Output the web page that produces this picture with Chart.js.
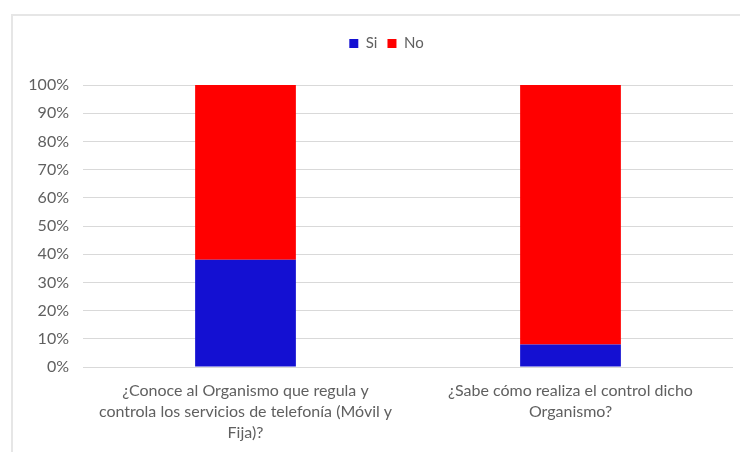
<!DOCTYPE html>
<html>
<head>
<meta charset="utf-8">
<script src="https://cdn.jsdelivr.net/npm/chart.js@4.4.1/dist/chart.umd.min.js"></script>
<style>
    html, body { margin: 0; padding: 0; background: #fff; overflow: hidden; }
    #marco { position: absolute; left: 11px; top: 14px; width: 800px; height: 500px; border: 2px solid #e6e6e6; box-sizing: border-box; }
    #caja { position: absolute; left: 0; top: 0; width: 740px; height: 452px; }
</style>
</head>
<body>
<div id="marco"></div>
<div id="caja"><canvas id="myChart" width="740" height="452"></canvas></div>
<script>
const preguntas = [
    ["¿Conoce al Organismo que regula y", "controla los servicios de telefonía (Móvil y", "Fija)?"],
    ["¿Sabe cómo realiza el control dicho", "Organismo?"]
]
const valoresSi = [38, 8]
const valoresNo = [62, 92]

// deja aire bajo la leyenda y la corre un poco a la derecha
const ajusteLeyenda = {
    id: 'ajusteLeyenda',
    beforeInit(chart) {
        const fit = chart.legend.fit
        chart.legend.fit = function () {
            fit.bind(chart.legend)()
            this.height += 24
        }
    },
    afterLayout(chart) {
        chart.legend.left += 20
        chart.legend.right += 20
    }
}

function iniciar_grafico() {
    Chart.defaults.font.family = "Lato, 'Open Sans', sans-serif"
    Chart.defaults.color = '#606060'

    new Chart("myChart", {
        type: "bar",
        data: {
            labels: preguntas,
            datasets: [{
                label: 'Si',
                backgroundColor: '#1410d2',
                data: valoresSi
            }, {
                label: 'No',
                backgroundColor: '#ff0000',
                data: valoresNo
            }]
        },
        options: {
            responsive: false,
            animation: false,
            layout: {
                padding: { top: 26, left: 0, right: 7, bottom: 0 }
            },
            datasets: {
                bar: {
                    categoryPercentage: 1,
                    barPercentage: 0.31
                }
            },
            scales: {
                x: {
                    stacked: true,
                    grid: { display: false },
                    border: { display: false },
                    ticks: {
                        maxRotation: 0,
                        padding: 5,
                        font: { size: 16, lineHeight: 1.33 }
                    },
                    afterFit: function (s) { s.height = 85 }
                },
                y: {
                    stacked: true,
                    min: 0,
                    max: 100,
                    grid: { color: '#d9d9d9', drawTicks: false },
                    border: { display: false },
                    ticks: {
                        stepSize: 10,
                        padding: 14,
                        font: { size: 16 },
                        callback: function (v) { return v + '%' }
                    },
                    afterFit: function (s) { s.width = 83 }
                }
            },
            plugins: {
                legend: {
                    labels: {
                        boxWidth: 9,
                        boxHeight: 9,
                        padding: 10,
                        font: { size: 15 }
                    }
                },
                tooltip: { enabled: false }
            }
        },
        plugins: [ajusteLeyenda]
    })
}

iniciar_grafico()
</script>
</body>
</html>
